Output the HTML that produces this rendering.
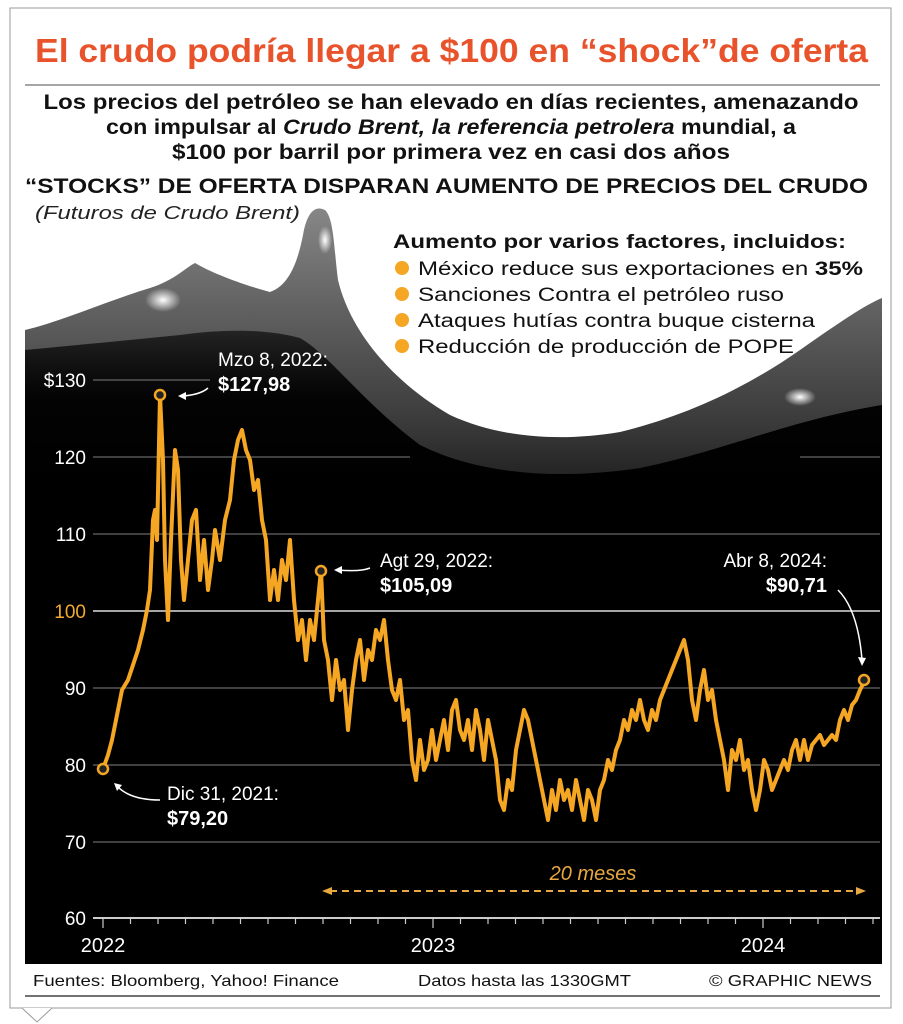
<!DOCTYPE html>
<html><head><meta charset="utf-8"><style>
html,body{margin:0;padding:0;background:#fff}
svg{display:block}
text{font-family:"Liberation Sans",Arial,sans-serif}
</style></head><body>
<svg width="903" height="1024" viewBox="0 0 903 1024" xmlns="http://www.w3.org/2000/svg">
<defs>
<linearGradient id="wg" gradientUnits="userSpaceOnUse" x1="0" y1="200" x2="0" y2="480">
<stop offset="0" stop-color="#8a8a8a"/><stop offset="0.4" stop-color="#606060"/><stop offset="0.8" stop-color="#3a3a3a"/><stop offset="1" stop-color="#222"/>
</linearGradient>
<linearGradient id="bg" gradientUnits="userSpaceOnUse" x1="0" y1="330" x2="0" y2="500">
<stop offset="0" stop-color="#000" stop-opacity="0.6"/><stop offset="0.4" stop-color="#000" stop-opacity="0.95"/><stop offset="1" stop-color="#000"/>
</linearGradient>
<radialGradient id="hl"><stop offset="0" stop-color="#fff"/><stop offset="1" stop-color="#fff" stop-opacity="0"/></radialGradient>
</defs>
<rect x="10" y="8" width="881" height="1000" fill="#fff" stroke="#999" stroke-width="1"/>
<polyline points="10,1008 22,1008 37,1022 52,1008" fill="#fff" stroke="#999"/>
<text x="35" y="62" font-size="33" font-weight="bold" fill="#e8532b" textLength="833" lengthAdjust="spacingAndGlyphs">El crudo podría llegar a $100 en “shock”de oferta</text>
<line x1="25" y1="85" x2="880" y2="85" stroke="#888" stroke-width="1.5"/>
<g font-size="21" font-weight="bold" fill="#111" text-anchor="middle">
<text x="451" y="109" textLength="815" lengthAdjust="spacingAndGlyphs">Los precios del petróleo se han elevado en días recientes, amenazando</text>
<text x="451" y="134" textLength="690" lengthAdjust="spacingAndGlyphs">con impulsar al <tspan font-style="italic">Crudo Brent, la referencia petrolera</tspan> mundial, a</text>
<text x="451" y="159" textLength="558" lengthAdjust="spacingAndGlyphs">$100 por barril por primera vez en casi dos años</text>
</g>
<text x="25" y="193" font-size="21" font-weight="bold" fill="#111" textLength="843" lengthAdjust="spacingAndGlyphs">“STOCKS” DE OFERTA DISPARAN AUMENTO DE PRECIOS DEL CRUDO</text>
<text x="35" y="219" font-size="18" font-style="italic" fill="#222" textLength="265" lengthAdjust="spacingAndGlyphs">(Futuros de Crudo Brent)</text>
<!-- chart -->
<path d="M25,330 C60,322 110,300 150,288 C175,280 185,268 195,263 C210,272 240,284 270,292 C290,285 298,260 303,235 C307,212 315,205 325,210 C334,218 334,250 338,280 C350,330 390,380 450,415 C500,438 560,442 620,432 C690,415 750,385 800,350 C840,322 865,305 882,298 L882,964 L25,964 Z" fill="url(#wg)"/>
<path d="M25,350 C80,345 130,340 180,335 C230,328 270,330 300,338 C330,355 360,400 420,445 C480,475 560,480 640,468 C720,452 790,420 882,405 L882,964 L25,964 Z" fill="url(#bg)"/>
<rect x="25" y="490" width="857" height="474" fill="#000"/>
<ellipse cx="163" cy="300" rx="18" ry="12" fill="url(#hl)"/>
<ellipse cx="325" cy="240" rx="7" ry="14" fill="url(#hl)"/>
<ellipse cx="800" cy="397" rx="16" ry="9" fill="url(#hl)"/>
<g stroke="#666" stroke-width="1.2">
<line x1="93" y1="380" x2="210" y2="380"/>
<line x1="93" y1="457" x2="410" y2="457"/><line x1="800" y1="457" x2="880" y2="457"/>
<line x1="93" y1="534" x2="880" y2="534"/>
<line x1="93" y1="688" x2="880" y2="688"/>
<line x1="93" y1="765" x2="880" y2="765"/>
<line x1="93" y1="842" x2="880" y2="842"/>
</g>
<line x1="93" y1="611" x2="880" y2="611" stroke="#ddd" stroke-width="1.5"/>
<g font-size="19" fill="#fff" text-anchor="end">
<text x="86" y="387">$130</text><text x="86" y="464">120</text><text x="86" y="541">110</text>
<text x="86" y="618" fill="#f2a930">100</text><text x="86" y="695">90</text><text x="86" y="772">80</text>
<text x="86" y="849">70</text><text x="86" y="925">60</text>
</g>
<line x1="93" y1="918" x2="880" y2="918" stroke="#ccc" stroke-width="2"/>
<g stroke="#ccc" stroke-width="1.2">
<line x1="103" y1="918" x2="103" y2="928"/><line x1="130.5" y1="918" x2="130.5" y2="924"/><line x1="158" y1="918" x2="158" y2="924"/><line x1="185.5" y1="918" x2="185.5" y2="924"/><line x1="213" y1="918" x2="213" y2="924"/><line x1="240.5" y1="918" x2="240.5" y2="924"/><line x1="268" y1="918" x2="268" y2="924"/><line x1="295.5" y1="918" x2="295.5" y2="924"/><line x1="323" y1="918" x2="323" y2="924"/><line x1="350.5" y1="918" x2="350.5" y2="924"/><line x1="378" y1="918" x2="378" y2="924"/><line x1="405.5" y1="918" x2="405.5" y2="924"/><line x1="433" y1="918" x2="433" y2="928"/><line x1="460.5" y1="918" x2="460.5" y2="924"/><line x1="488" y1="918" x2="488" y2="924"/><line x1="515.5" y1="918" x2="515.5" y2="924"/><line x1="543" y1="918" x2="543" y2="924"/><line x1="570.5" y1="918" x2="570.5" y2="924"/><line x1="598" y1="918" x2="598" y2="924"/><line x1="625.5" y1="918" x2="625.5" y2="924"/><line x1="653" y1="918" x2="653" y2="924"/><line x1="680.5" y1="918" x2="680.5" y2="924"/><line x1="708" y1="918" x2="708" y2="924"/><line x1="735.5" y1="918" x2="735.5" y2="924"/><line x1="763" y1="918" x2="763" y2="928"/><line x1="790.5" y1="918" x2="790.5" y2="924"/><line x1="818" y1="918" x2="818" y2="924"/><line x1="845.5" y1="918" x2="845.5" y2="924"/><line x1="873" y1="918" x2="873" y2="924"/>
</g>
<g font-size="20" fill="#fff" text-anchor="middle">
<text x="103" y="952">2022</text><text x="433" y="952">2023</text><text x="763" y="952">2024</text>
</g>
<text x="593" y="880" font-size="20" font-style="italic" fill="#e8a840" text-anchor="middle">20 meses</text>
<line x1="330" y1="891" x2="858" y2="891" stroke="#e8a840" stroke-width="2" stroke-dasharray="7,5"/>
<polygon points="322,891 332,887 332,895" fill="#e8a840"/><polygon points="866,891 856,887 856,895" fill="#e8a840"/>
<polyline fill="none" stroke="#f5a623" stroke-width="4" stroke-linejoin="round" points="103,769 108,755 112,740 118,710 122,690 128,680 133,665 138,650 143,630 147,610 150,590 153,520 155,510 157,540 160,395 163,460 165,560 168,620 171,540 175,450 178,470 181,560 184,600 188,560 192,520 196,510 200,580 204,540 208,590 212,560 215,530 220,560 225,520 230,500 234,460 238,440 242,430 246,450 250,460 254,490 258,480 262,520 266,540 270,600 274,570 278,600 282,560 286,580 290,540 294,600 298,640 302,620 306,660 310,620 314,640 318,600 321,570 324,640 328,660 332,700 336,660 340,690 344,680 348,730 352,690 356,660 360,640 364,680 368,650 372,660 376,630 380,640 384,620 388,660 392,690 396,700 400,680 404,720 408,710 412,760 416,780 420,740 424,770 428,760 432,730 436,760 440,740 444,720 448,750 452,710 456,700 460,730 464,740 468,720 472,750 476,710 480,730 484,760 488,720 492,740 496,760 500,800 504,810 508,780 512,790 516,750 520,730 524,710 528,720 532,740 536,760 540,780 544,800 548,820 552,790 556,810 560,780 564,800 568,790 572,810 576,780 580,800 584,820 588,790 592,800 596,820 600,790 604,780 608,760 612,770 616,750 620,740 624,720 628,730 632,710 636,720 640,700 644,720 648,730 652,710 656,720 660,700 664,690 668,680 672,670 676,660 680,650 684,640 688,660 692,700 696,720 700,690 704,670 708,700 712,690 716,720 720,740 724,760 728,790 732,750 736,760 740,740 744,770 748,760 752,790 756,810 760,790 764,760 768,770 772,790 776,780 780,770 784,760 788,770 792,750 796,740 800,760 804,740 808,760 812,745 816,740 820,735 824,745 828,740 832,735 836,740 840,720 844,710 848,720 852,705 856,700 860,690 865,680"/>
<g fill="#222" stroke="#f5a623" stroke-width="2.5">
<circle cx="160" cy="395" r="5"/><circle cx="321" cy="571" r="5"/><circle cx="103" cy="769" r="5"/><circle cx="864" cy="680" r="5"/>
</g>
<g fill="none" stroke="#fff" stroke-width="1.5">
<path d="M208,388 Q200,395 182,396"/><path d="M370,568 Q360,572 338,570"/><path d="M160,800 Q130,800 117,786"/><path d="M838,590 Q858,610 862,660"/>
</g>
<g fill="#fff">
<polygon points="178,396 186,392 186,400"/><polygon points="334,570 342,566 342,574"/><polygon points="114,783 122,785 117,791"/><polygon points="862,666 858,657 866,658"/>
</g>
<g font-size="19" fill="#fff">
<text x="218" y="366">Mzo 8, 2022:</text><text x="218" y="391" font-weight="bold" font-size="20">$127,98</text>
<text x="380" y="567">Agt 29, 2022:</text><text x="380" y="592" font-weight="bold" font-size="20">$105,09</text>
<text x="167" y="800">Dic 31, 2021:</text><text x="167" y="825" font-weight="bold" font-size="20">$79,20</text>
<text x="827" y="567" text-anchor="end">Abr 8, 2024:</text><text x="827" y="592" text-anchor="end" font-weight="bold" font-size="20">$90,71</text>
</g>
<text x="393" y="248" font-size="19" font-weight="bold" fill="#111" textLength="453" lengthAdjust="spacingAndGlyphs">Aumento por varios factores, incluidos:</text>
<g fill="#f5a623"><circle cx="402" cy="268" r="7"/><circle cx="402" cy="294" r="7"/><circle cx="402" cy="320" r="7"/><circle cx="402" cy="346" r="7"/></g>
<g font-size="19" fill="#111">
<text x="418" y="275" textLength="445" lengthAdjust="spacingAndGlyphs">México reduce sus exportaciones en <tspan font-weight="bold">35%</tspan></text>
<text x="418" y="301" textLength="366" lengthAdjust="spacingAndGlyphs">Sanciones Contra el petróleo ruso</text>
<text x="418" y="327" textLength="397" lengthAdjust="spacingAndGlyphs">Ataques hutías contra buque cisterna</text>
<text x="418" y="353" textLength="376" lengthAdjust="spacingAndGlyphs">Reducción de producción de POPE</text>
</g>
<g font-size="16" fill="#111">
<text x="33" y="986" textLength="306" lengthAdjust="spacingAndGlyphs">Fuentes: Bloomberg, Yahoo! Finance</text>
<text x="418" y="986" textLength="213" lengthAdjust="spacingAndGlyphs">Datos hasta las 1330GMT</text>
<text x="872" y="986" text-anchor="end" textLength="163" lengthAdjust="spacingAndGlyphs">© GRAPHIC NEWS</text>
</g>
<line x1="25" y1="996" x2="880" y2="996" stroke="#444" stroke-width="1.5"/>
</svg>
</body></html>
